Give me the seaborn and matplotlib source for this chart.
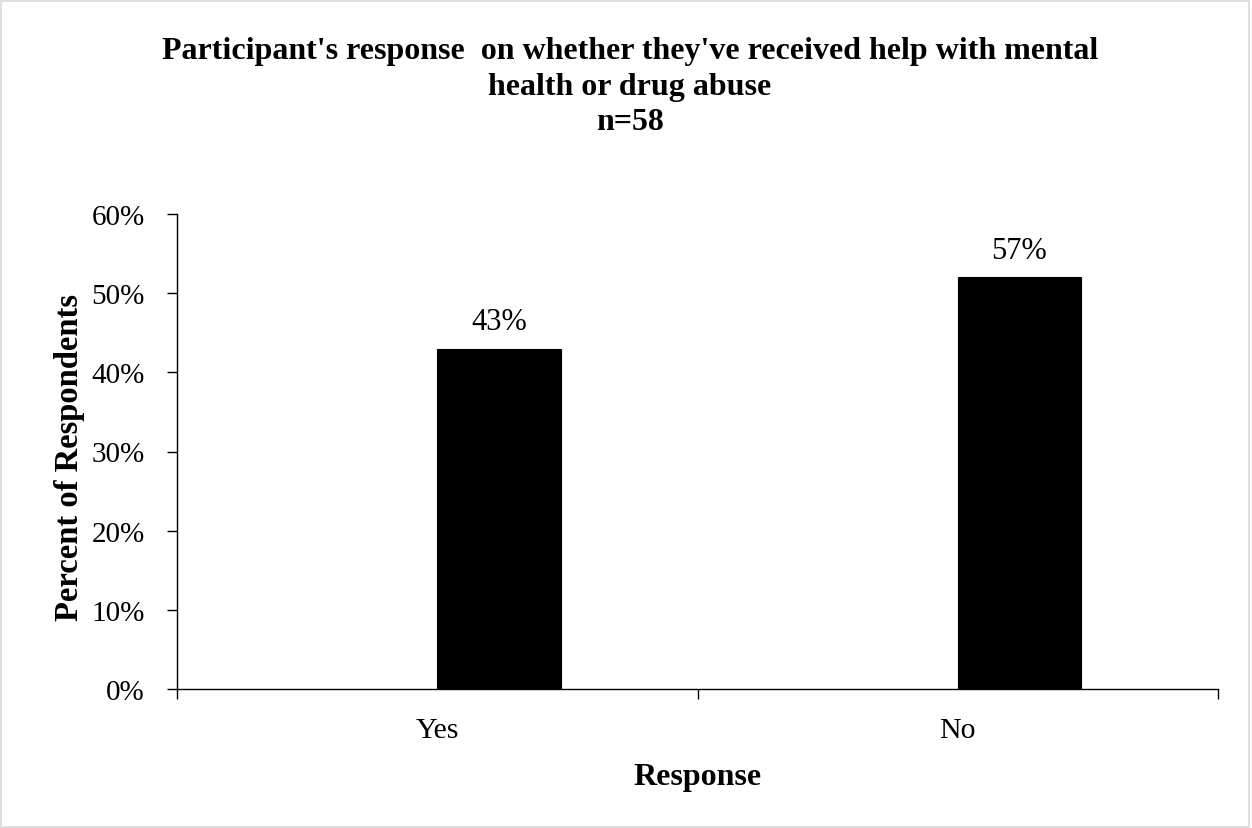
import pandas as pd
import seaborn as sns
import matplotlib.pyplot as plt
from matplotlib.patches import Rectangle

# values (bar heights) and the printed labels
responses = ['Yes', 'No']
percent = [0.43, 0.52]
bar_labels = ['43%', '57%']
y_ticks = [0, 0.1, 0.2, 0.3, 0.4, 0.5, 0.6]
y_tick_labels = ['0%', '10%', '20%', '30%', '40%', '50%', '60%']

df = pd.DataFrame({'Response': responses, 'Percent': percent})

sns.set_style('white', {'text.color': 'black', 'axes.labelcolor': 'black',
                        'xtick.color': 'black', 'ytick.color': 'black'})
plt.rcParams['font.family'] = ['Liberation Serif', 'DejaVu Serif']

fig = plt.figure(figsize=(12.52, 8.29), dpi=100)
ax = fig.add_axes([177 / 1252, 1 - 690 / 829, (1218 - 177) / 1252, (690 - 215) / 829])

sns.barplot(data=df, x='Response', y='Percent', color='black', width=0.237,
            edgecolor='black', linewidth=0.8, ax=ax)

# excel-style placement: bar starts at the category centre
for i, p in enumerate(ax.patches):
    p.set_x(p.get_x() + p.get_width() / 2)
    ax.annotate(bar_labels[i],
                (p.get_x() + p.get_width() / 2, p.get_height()),
                xytext=(0, 9), textcoords='offset points',
                ha='center', va='bottom', fontsize=22, color='black')

ax.set_xlim(-0.5, 1.5)
ax.set_ylim(0, 0.6)
ax.set_yticks(y_ticks)
ax.set_yticklabels(y_tick_labels, fontsize=21)
ax.set_xticks([0, 1])
ax.set_xticklabels(responses, fontsize=21.5)
ax.set_xticks([-0.5, 0.5, 1.5], minor=True)
ax.tick_params(axis='x', which='major', length=0, pad=20)
ax.tick_params(axis='x', which='minor', direction='out', length=7, width=1, bottom=True)
ax.tick_params(axis='y', direction='out', length=7, width=1, left=True, pad=16)

ax.set_xlabel('Response', fontsize=23, fontweight='bold')
ax.set_ylabel('Percent of Respondents', fontsize=23.5, fontweight='bold')
ax.xaxis.set_label_coords(0.5, -0.153)
ax.yaxis.set_label_coords(-0.088, 0.49)

for side in ['top', 'right']:
    ax.spines[side].set_visible(False)
for side in ['left', 'bottom']:
    ax.spines[side].set_color('black')
    ax.spines[side].set_linewidth(1)

fig.text(0.503, 1 - 37 / 829,
         "Participant's response  on whether they've received help with mental\nhealth or drug abuse\nn=58",
         ha='center', va='top', fontsize=23, fontweight='bold', linespacing=1.3,
         color='black')

# thin grey frame around the chart area
fig.patches.append(Rectangle((0.001, 0.001), 0.997, 0.997, transform=fig.transFigure,
                             fill=False, edgecolor='#d9d9d9', linewidth=1.2))

fig.savefig('out.png', dpi=100)
